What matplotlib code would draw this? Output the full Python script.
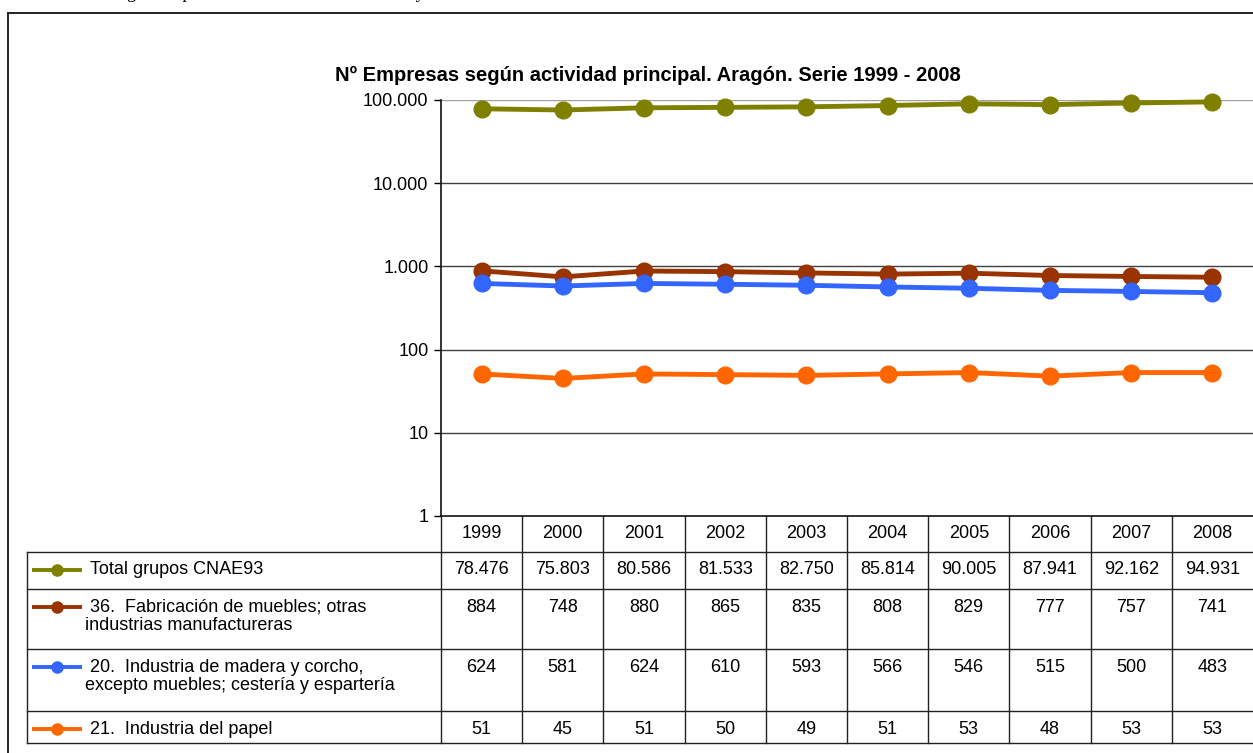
import matplotlib.pyplot as plt

years = [1999, 2000, 2001, 2002, 2003, 2004, 2005, 2006, 2007, 2008]
total = [78476, 75803, 80586, 81533, 82750, 85814, 90005, 87941, 92162, 94931]
muebles = [884, 748, 880, 865, 835, 808, 829, 777, 757, 741]
madera = [624, 581, 624, 610, 593, 566, 546, 515, 500, 483]
papel = [51, 45, 51, 50, 49, 51, 53, 48, 53, 53]

series = [total, muebles, madera, papel]
labels = [
    ["Total grupos CNAE93"],
    ["36.  Fabricación de muebles; otras", "industrias manufactureras"],
    ["20.  Industria de madera y corcho,", "excepto muebles; cestería y espartería"],
    ["21.  Industria del papel"],
]
colors = ["#808000", "#993300", "#3366ff", "#ff6600"]
yticks = [1, 10, 100, 1000, 10000, 100000]

title = "Nº Empresas según actividad principal. Aragón. Serie 1999 - 2008"


def fmt(v):
    return f"{v:,}".replace(",", ".")


plt.rcParams['font.family'] = ['Liberation Sans', 'DejaVu Sans']

W, H = 1253, 753
fig = plt.figure(figsize=(W / 100, H / 100), dpi=100)

# overlay in pixel coords for frame, title and data table
ov = fig.add_axes([0, 0, 1, 1], zorder=0)
ov.set_xlim(0, W)
ov.set_ylim(H, 0)
ov.axis("off")

# plot area
left, top, bottom = 441, 100, 516
ax = fig.add_axes([left / W, 1 - bottom / H, (W - left) / W, (bottom - top) / H], zorder=1)
ax.patch.set_alpha(0)
ax.set_yscale("log")
ax.set_ylim(1, 100000)
ax.set_xlim(-0.5, len(years) - 0.5)
for t in yticks[1:]:
    c = "#a0a0a0" if t == yticks[-1] else "#404040"
    ax.axhline(t, color=c, lw=1.0, zorder=0)
for s in ["top", "right"]:
    ax.spines[s].set_visible(False)
ax.spines["left"].set_color("#111")
ax.spines["bottom"].set_color("#111")
ax.spines["left"].set_linewidth(1.2)
ax.spines["bottom"].set_linewidth(1.2)
ax.set_xticks([])
ax.set_yticks(yticks)
ax.set_yticklabels([fmt(t) for t in yticks])
ax.minorticks_off()
ax.tick_params(axis="y", length=5, width=1, direction="out", labelsize=13, pad=4)

x = list(range(len(years)))
for vals, c in zip(series, colors):
    ax.plot(x, vals, color=c, lw=3.5, marker="o", ms=12, clip_on=False, zorder=3)

# partly cut text line above the chart (only its descenders show)
fig.text(85 / W, 1.0 + 1.5 / H, "En el gráfico podemos ver la evolución anual y",
         fontfamily="Liberation Serif", fontsize=13, va="baseline", ha="left")

# frame
ov.plot([8, W], [13, 13], color="#222", lw=1.4)
ov.plot([8, 8], [13, H], color="#222", lw=1.4)

ov.text(648, 75, title, ha="center", va="center", fontsize=14.5, fontweight="bold")

# data table
col_w = (W - left) / len(years)
col_x = [left + i * col_w for i in range(len(years) + 1)]
rows_y = [516, 552, 589, 649, 711, 743]
tab_left = 27
lc = "#222"
for y in rows_y[1:]:
    ov.plot([tab_left, W], [y, y], color=lc, lw=1.0)
ov.plot([tab_left, tab_left], [rows_y[1], rows_y[-1]], color=lc, lw=1.0)
for xx in col_x[:-1]:
    ov.plot([xx, xx], [rows_y[0], rows_y[-1]], color=lc, lw=1.0)

for i, yr in enumerate(years):
    ov.text(col_x[i] + col_w / 2, 534, str(yr), ha="center", va="center", fontsize=13)

for r, (vals, lab, c) in enumerate(zip(series, labels, colors)):
    yt = rows_y[r + 1] + 18
    ov.plot([32, 82], [yt, yt], color=c, lw=2.8, solid_capstyle="butt")
    ov.plot([57], [yt], marker="o", color=c, ms=8)
    ov.text(90, yt, lab[0], ha="left", va="center", fontsize=13)
    if len(lab) > 1:
        ov.text(85, yt + 19, lab[1], ha="left", va="center", fontsize=13)
    for i, v in enumerate(vals):
        ov.text(col_x[i] + col_w / 2, yt, fmt(v), ha="center", va="center", fontsize=13)

fig.savefig("out.png", dpi=100)
